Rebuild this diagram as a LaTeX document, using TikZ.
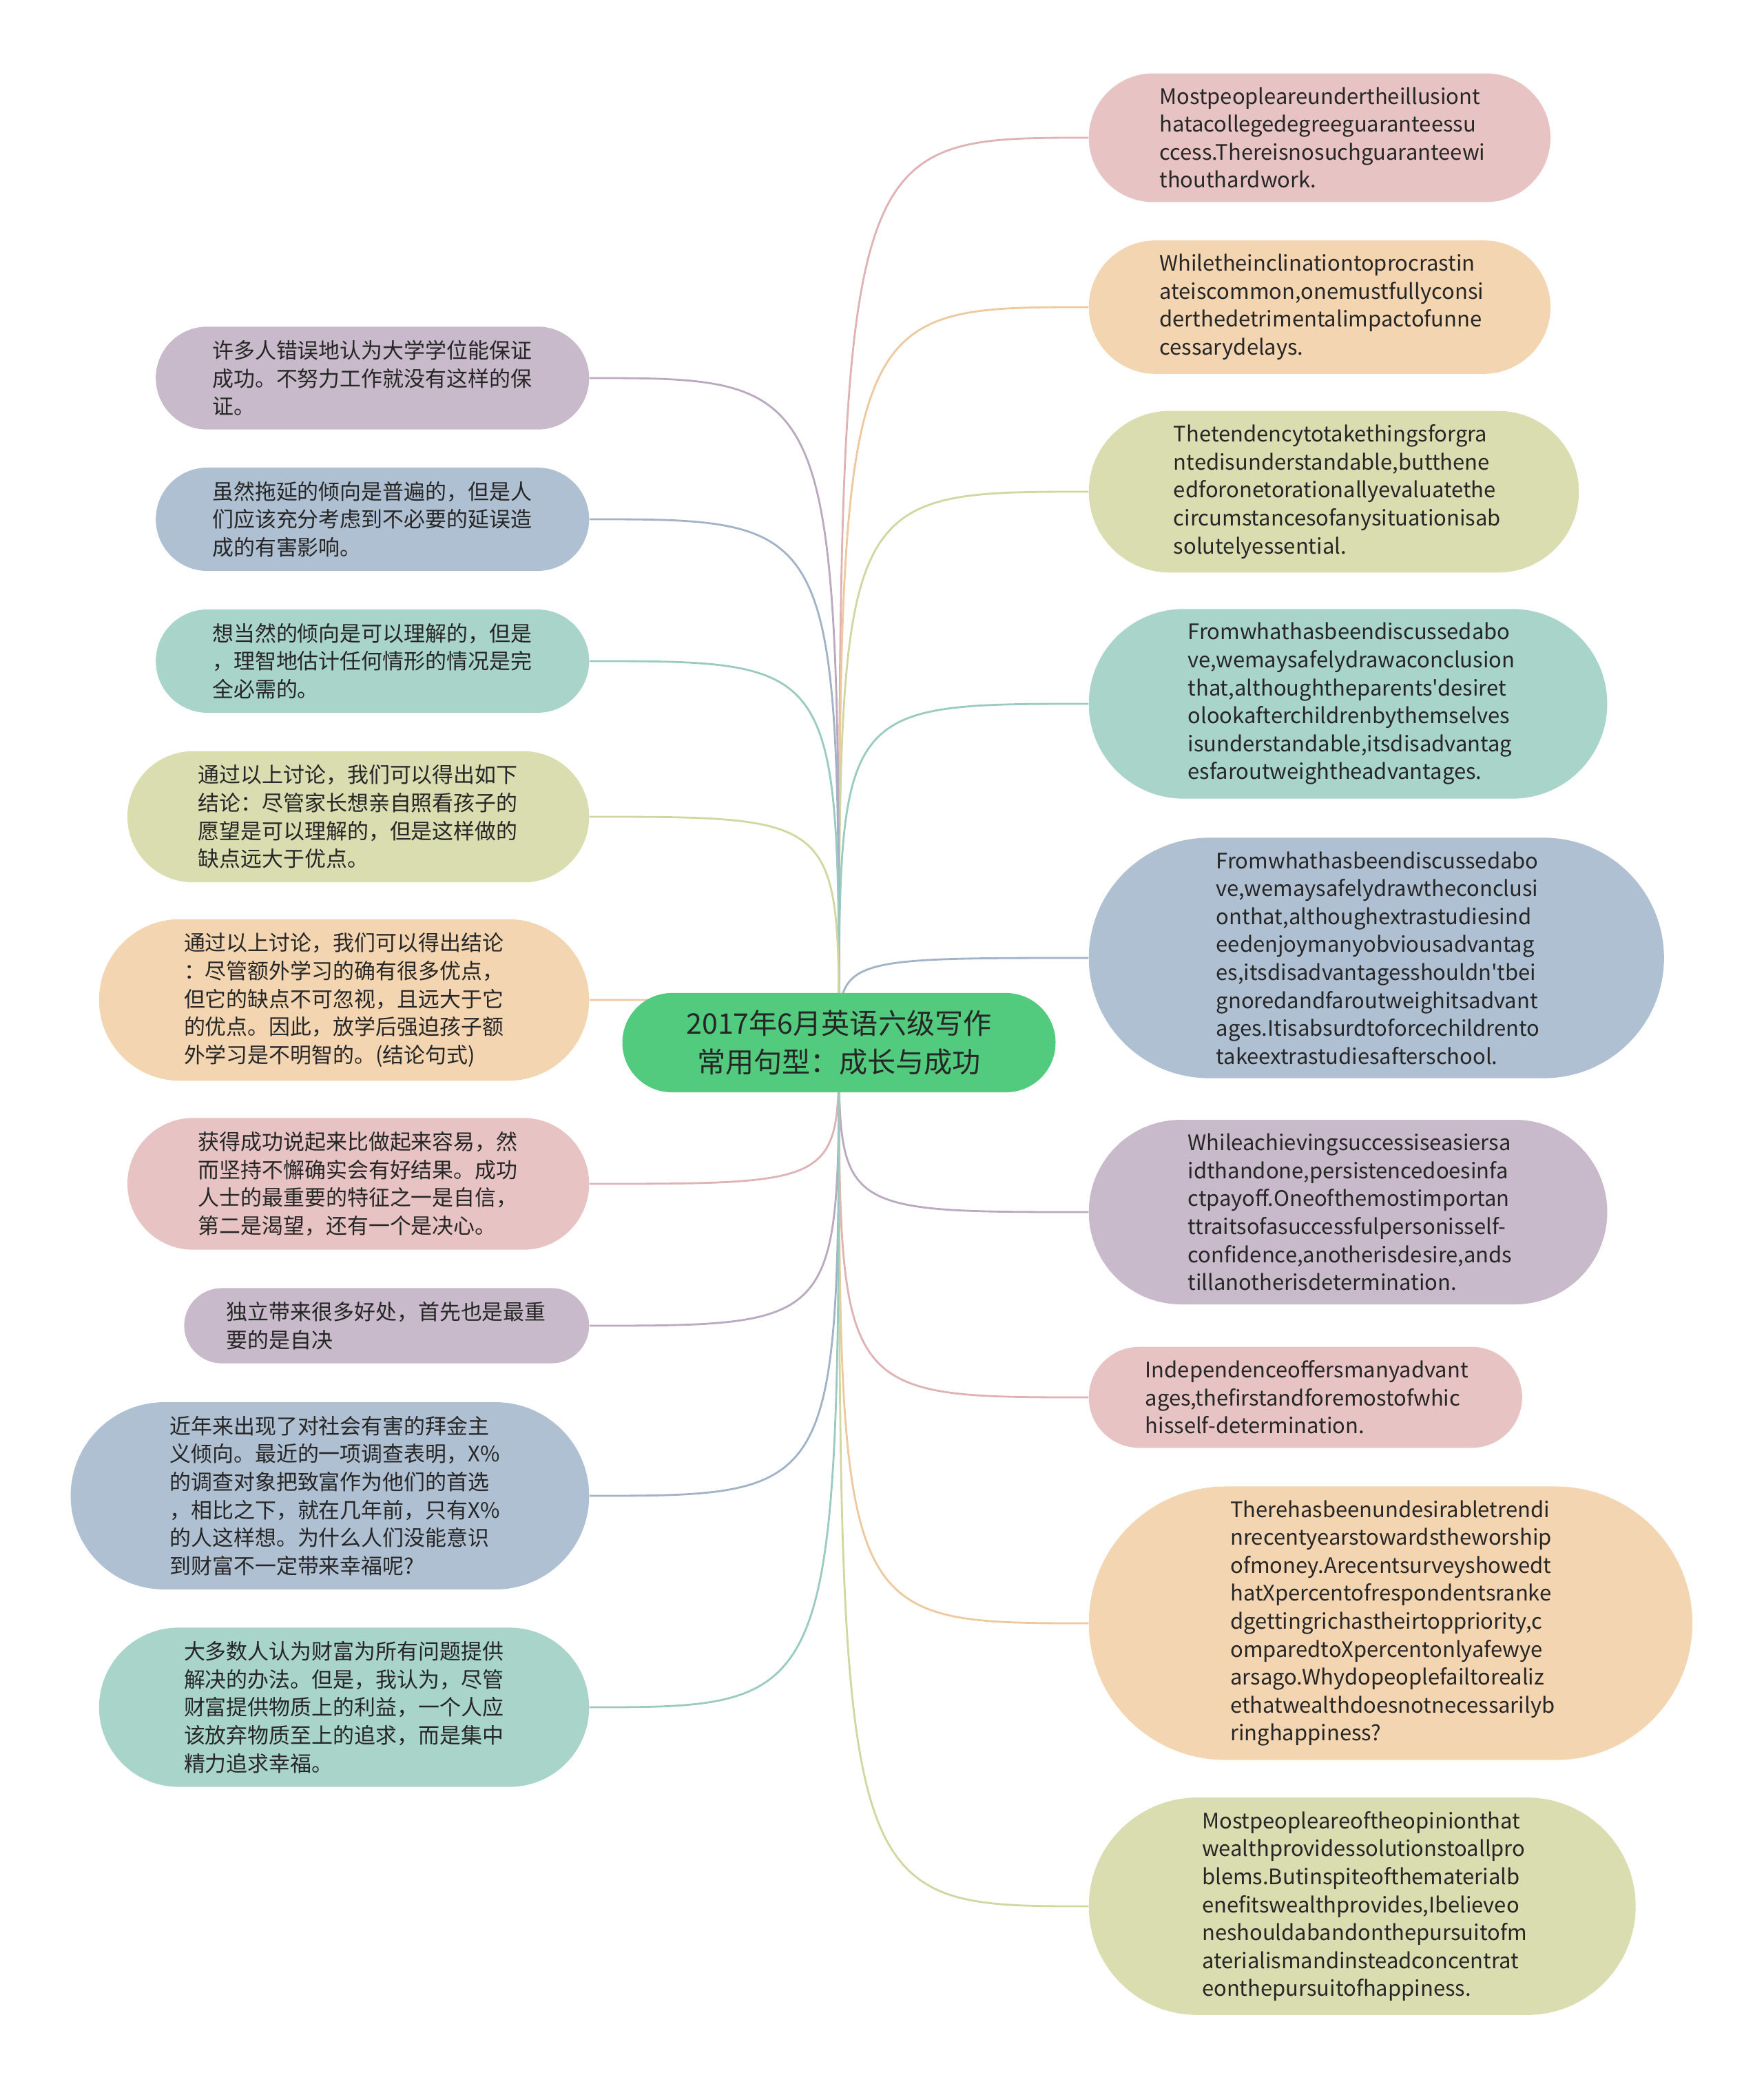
\documentclass[tikz,border=0pt]{standalone}
\usepackage{fontspec}
\setmainfont{Noto Sans CJK SC}[Ligatures=TeXOff]
\usetikzlibrary{shapes.misc, backgrounds}
\definecolor{rootc}{HTML}{52CB7E}
\definecolor{inkc}{HTML}{262626}
\definecolor{pinkc}{HTML}{E7C3C4}  \definecolor{pinkl}{HTML}{DFB3B6}
\definecolor{peachc}{HTML}{F3D5B1} \definecolor{peachl}{HTML}{EEC99F}
\definecolor{khakic}{HTML}{D9DDB0} \definecolor{khakil}{HTML}{D2D7A1}
\definecolor{tealc}{HTML}{A9D4CA}  \definecolor{teall}{HTML}{9BCBC0}
\definecolor{bluec}{HTML}{B0C0D3}  \definecolor{bluel}{HTML}{A2B3C8}
\definecolor{mauvec}{HTML}{C8B9CB} \definecolor{mauvel}{HTML}{BAA9BF}
\tikzset{
  leaf/.style={rounded rectangle, text width=4.65cm, align=left, inner xsep=0.06cm, inner ysep=0.2cm, text=inkc, font=\fontsize{8.8}{11.55}\selectfont},
  nlines/.style={minimum width={5.175cm+0.412cm*#1}},
  kpink/.style={leaf, fill=pinkc}, kpeach/.style={leaf, fill=peachc},
  kkhaki/.style={leaf, fill=khakic}, kteal/.style={leaf, fill=tealc},
  kblue/.style={leaf, fill=bluec}, kmauve/.style={leaf, fill=mauvec},
  kroot/.style={rounded rectangle, fill=rootc, align=center, minimum width=6.63cm, inner xsep=0.17cm, inner ysep=0.25cm, text=inkc, font=\fontsize{11.7}{15.9}\selectfont},
  link/.style={line width=0.8pt},
}
\begin{document}
\begin{tikzpicture}
    \useasboundingbox (0,0) rectangle (25.60,-30.29);
    \node[kroot] (topic) at (12.18,-15.14) {2017年6月英语六级写作\\常用句型：成长与成功};
    % right side
    \node[kpink, nlines=4, anchor=west] (r1) at (15.80,-2.00) {Mostpeopleareundertheillusiont\\hatacollegedegreeguaranteessu\\ccess.Thereisnosuchguaranteewi\\thouthardwork.};
    \node[kpeach, nlines=4, anchor=west] (r2) at (15.80,-4.46) {Whiletheinclinationtoprocrastin\\ateiscommon,onemustfullyconsi\\derthedetrimentalimpactofunne\\cessarydelays.};
    \node[kkhaki, nlines=5, anchor=west] (r3) at (15.80,-7.14) {Thetendencytotakethingsforgra\\ntedisunderstandable,butthene\\edforonetorationallyevaluatethe\\circumstancesofanysituationisab\\solutelyessential.};
    \node[kteal, nlines=6, anchor=west] (r4) at (15.80,-10.22) {Fromwhathasbeendiscussedabo\\ve,wemaysafelydrawaconclusion\\that,althoughtheparents'desiret\\olookafterchildrenbythemselves\\isunderstandable,itsdisadvantag\\esfaroutweightheadvantages.};
    \node[kblue, nlines=8, anchor=west] (r5) at (15.80,-13.91) {Fromwhathasbeendiscussedabo\\ve,wemaysafelydrawtheconclusi\\onthat,althoughextrastudiesind\\eedenjoymanyobviousadvantag\\es,itsdisadvantagesshouldn'tbei\\gnoredandfaroutweighitsadvant\\ages.Itisabsurdtoforcechildrento\\takeextrastudiesafterschool.};
    \node[kmauve, nlines=6, anchor=west] (r6) at (15.80,-17.60) {Whileachievingsuccessiseasiersa\\idthandone,persistencedoesinfa\\ctpayoff.Oneofthemostimportan\\ttraitsofasuccessfulpersonisself-\\confidence,anotherisdesire,ands\\tillanotherisdetermination.};
    \node[kpink, nlines=3, anchor=west] (r7) at (15.80,-20.29) {Independenceoffersmanyadvant\\ages,thefirstandforemostofwhic\\hisself-determination.};
    \node[kpeach, nlines=9, anchor=west] (r8) at (15.80,-23.57) {Therehasbeenundesirabletrendi\\nrecentyearstowardstheworship\\ofmoney.Arecentsurveyshowedt\\hatXpercentofrespondentsranke\\dgettingrichastheirtoppriority,c\\omparedtoXpercentonlyafewye\\arsago.Whydopeoplefailtorealiz\\ethatwealthdoesnotnecessarilyb\\ringhappiness?};
    \node[kkhaki, nlines=7, anchor=west] (r9) at (15.80,-27.68) {Mostpeopleareoftheopinionthat\\wealthprovidessolutionstoallpro\\blems.Butinspiteofthematerialb\\enefitswealthprovides,Ibelieveo\\neshouldabandonthepursuitofm\\aterialismandinsteadconcentrat\\eonthepursuitofhappiness.};
    % left side
    \node[kmauve, nlines=3, anchor=east] (l1) at (8.56,-5.49) {许多人错误地认为大学学位能保证\\成功。不努力工作就没有这样的保\\证。};
    \node[kblue, nlines=3, anchor=east] (l2) at (8.56,-7.54) {虽然拖延的倾向是普遍的，但是人\\们应该充分考虑到不必要的延误造\\成的有害影响。};
    \node[kteal, nlines=3, anchor=east] (l3) at (8.56,-9.60) {想当然的倾向是可以理解的，但是\\，理智地估计任何情形的情况是完\\全必需的。};
    \node[kkhaki, nlines=4, anchor=east] (l4) at (8.56,-11.86) {通过以上讨论，我们可以得出如下\\结论：尽管家长想亲自照看孩子的\\愿望是可以理解的，但是这样做的\\缺点远大于优点。};
    \node[kpeach, nlines=5, anchor=east] (l5) at (8.56,-14.52) {通过以上讨论，我们可以得出结论\\：尽管额外学习的确有很多优点，\\但它的缺点不可忽视，且远大于它\\的优点。因此，放学后强迫孩子额\\外学习是不明智的。(结论句式)};
    \node[kpink, nlines=4, anchor=east] (l6) at (8.56,-17.19) {获得成功说起来比做起来容易，然\\而坚持不懈确实会有好结果。成功\\人士的最重要的特征之一是自信，\\第二是渴望，还有一个是决心。};
    \node[kmauve, nlines=2, anchor=east] (l7) at (8.56,-19.25) {独立带来很多好处，首先也是最重\\要的是自决};
    \node[kblue, nlines=6, anchor=east] (l8) at (8.56,-21.72) {近年来出现了对社会有害的拜金主\\义倾向。最近的一项调查表明，X\%\\的调查对象把致富作为他们的首选\\，相比之下，就在几年前，只有X\%\\的人这样想。为什么人们没能意识\\到财富不一定带来幸福呢?};
    \node[kteal, nlines=5, anchor=east] (l9) at (8.56,-24.79) {大多数人认为财富为所有问题提供\\解决的办法。但是，我认为，尽管\\财富提供物质上的利益，一个人应\\该放弃物质至上的追求，而是集中\\精力追求幸福。};
    % links behind the nodes
    \begin{scope}[on background layer]
    \draw[link, draw=pinkl] (topic.center) .. controls (topic.center |- r1.west) .. (r1.west);
    \draw[link, draw=peachl] (topic.center) .. controls (topic.center |- r2.west) .. (r2.west);
    \draw[link, draw=khakil] (topic.center) .. controls (topic.center |- r3.west) .. (r3.west);
    \draw[link, draw=teall] (topic.center) .. controls (topic.center |- r4.west) .. (r4.west);
    \draw[link, draw=bluel] (topic.center) .. controls (topic.center |- r5.west) .. (r5.west);
    \draw[link, draw=mauvel] (topic.center) .. controls (topic.center |- r6.west) .. (r6.west);
    \draw[link, draw=pinkl] (topic.center) .. controls (topic.center |- r7.west) .. (r7.west);
    \draw[link, draw=peachl] (topic.center) .. controls (topic.center |- r8.west) .. (r8.west);
    \draw[link, draw=khakil] (topic.center) .. controls (topic.center |- r9.west) .. (r9.west);
    \draw[link, draw=mauvel] (topic.center) .. controls (topic.center |- l1.east) .. (l1.east);
    \draw[link, draw=bluel] (topic.center) .. controls (topic.center |- l2.east) .. (l2.east);
    \draw[link, draw=teall] (topic.center) .. controls (topic.center |- l3.east) .. (l3.east);
    \draw[link, draw=khakil] (topic.center) .. controls (topic.center |- l4.east) .. (l4.east);
    \draw[link, draw=peachl] (topic.center) .. controls (topic.center |- l5.east) .. (l5.east);
    \draw[link, draw=pinkl] (topic.center) .. controls (topic.center |- l6.east) .. (l6.east);
    \draw[link, draw=mauvel] (topic.center) .. controls (topic.center |- l7.east) .. (l7.east);
    \draw[link, draw=bluel] (topic.center) .. controls (topic.center |- l8.east) .. (l8.east);
    \draw[link, draw=teall] (topic.center) .. controls (topic.center |- l9.east) .. (l9.east);
    \end{scope}
  \end{tikzpicture}
\end{document}
